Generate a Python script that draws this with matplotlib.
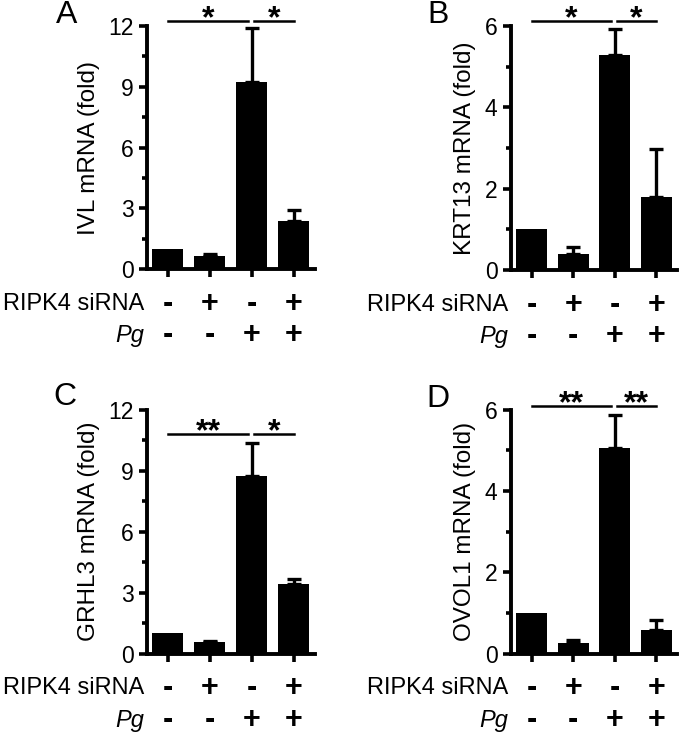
import matplotlib
matplotlib.use("Agg")
import matplotlib.pyplot as plt
from matplotlib.ticker import MultipleLocator

plt.rcParams['font.family'] = ['Liberation Sans', 'DejaVu Sans']

# data (fold change, mean and upper error)
ivl_mean = [1.0, 0.65, 9.25, 2.37]
ivl_err = [0.0, 0.07, 2.65, 0.53]
krt13_mean = [1.0, 0.39, 5.29, 1.80]
krt13_err = [0.0, 0.18, 0.63, 1.18]
grhl3_mean = [1.0, 0.58, 8.72, 3.44]
grhl3_err = [0.0, 0.05, 1.64, 0.22]
ovol1_mean = [1.0, 0.26, 5.06, 0.575]
ovol1_err = [0.0, 0.07, 0.80, 0.245]

ripk4_row = ['-', '+', '-', '+']
pg_row = ['-', '-', '+', '+']

panels = [
    # letter, ylabel, mean, err, ymax, major, minor, sig y, stars
    ("A", "IVL mRNA (fold)", ivl_mean, ivl_err, 12, 3, 1.5, 12.26, ["*", "*"]),
    ("B", "KRT13 mRNA (fold)", krt13_mean, krt13_err, 6, 2, 1, 6.13, ["*", "*"]),
    ("C", "GRHL3 mRNA (fold)", grhl3_mean, grhl3_err, 12, 3, 1.5, 10.82, ["**", "*"]),
    ("D", "OVOL1 mRNA (fold)", ovol1_mean, ovol1_err, 6, 2, 1, 6.10, ["**", "**"]),
]

# axes boxes in figure fraction
boxes = [
    [0.216, 0.6335, 0.247, 0.331],
    [0.751, 0.632, 0.245, 0.3325],
    [0.216, 0.1094, 0.247, 0.3324],
    [0.751, 0.1094, 0.245, 0.3324],
]
letter_pos = [(0.098, 0.9687), (0.644, 0.9687), (0.096, 0.448), (0.644, 0.4455)]

fig = plt.figure(figsize=(6.8, 7.34), dpi=100)

for (letter, ylab, mean, err, ymax, major, minor, sig_y, stars), box, lp in zip(panels, boxes, letter_pos):
    ax = fig.add_axes(box)
    x = list(range(4))
    ax.bar(x, mean, width=0.74, color="black", zorder=2)
    # only the treated groups carry an error bar
    ex = [i for i in x if err[i] > 0]
    ax.errorbar(ex, [mean[i] for i in ex], yerr=[[0] * len(ex), [err[i] for i in ex]],
                fmt="none", ecolor="black", elinewidth=2.4, capsize=5,
                capthick=2.4, zorder=3)

    ax.set_xlim(-0.5, 3.5)
    ax.set_ylim(0, ymax)
    ax.yaxis.set_major_locator(MultipleLocator(major))
    ax.yaxis.set_minor_locator(MultipleLocator(minor))
    ax.set_xticks(x)
    ax.set_xticklabels([])
    for s in ["top", "right"]:
        ax.spines[s].set_visible(False)
    for s in ["left", "bottom"]:
        ax.spines[s].set_linewidth(2.8)
    ax.tick_params(axis="both", which="major", length=5.5, width=2.6,
                   labelsize=16.5, pad=4)
    ax.tick_params(axis="y", which="minor", length=3.5, width=2.6)
    ax.set_ylabel(ylab, fontsize=17.5, labelpad=6)

    # treatment rows
    tr = ax.get_xaxis_transform()
    ax.text(-0.56, -0.142, "RIPK4 siRNA", transform=tr, ha="right", va="center",
            fontsize=17)
    ax.text(-0.56, -0.272, "Pg", transform=tr, ha="right", va="center",
            fontsize=17, style="italic")
    for i in x:
        ax.text(i, -0.142, ripk4_row[i], transform=tr, ha="center", va="center",
                fontsize=22, fontweight="bold")
        ax.text(i, -0.272, pg_row[i], transform=tr, ha="center", va="center",
                fontsize=22, fontweight="bold")

    # significance bars
    ax.plot([0, 1.92], [sig_y, sig_y], color="black", lw=1.8, clip_on=False)
    ax.plot([2.05, 3], [sig_y, sig_y], color="black", lw=1.8, clip_on=False)
    ax.annotate(stars[0], (0.96, sig_y), xytext=(0, -5), textcoords="offset points",
                ha="center", va="baseline", fontsize=23, fontweight="bold",
                annotation_clip=False)
    ax.annotate(stars[1], (2.52, sig_y), xytext=(0, -5), textcoords="offset points",
                ha="center", va="baseline", fontsize=23, fontweight="bold",
                annotation_clip=False)

    fig.text(lp[0], lp[1], letter, ha="center", va="baseline", fontsize=23)

fig.savefig("out.png", dpi=100)
